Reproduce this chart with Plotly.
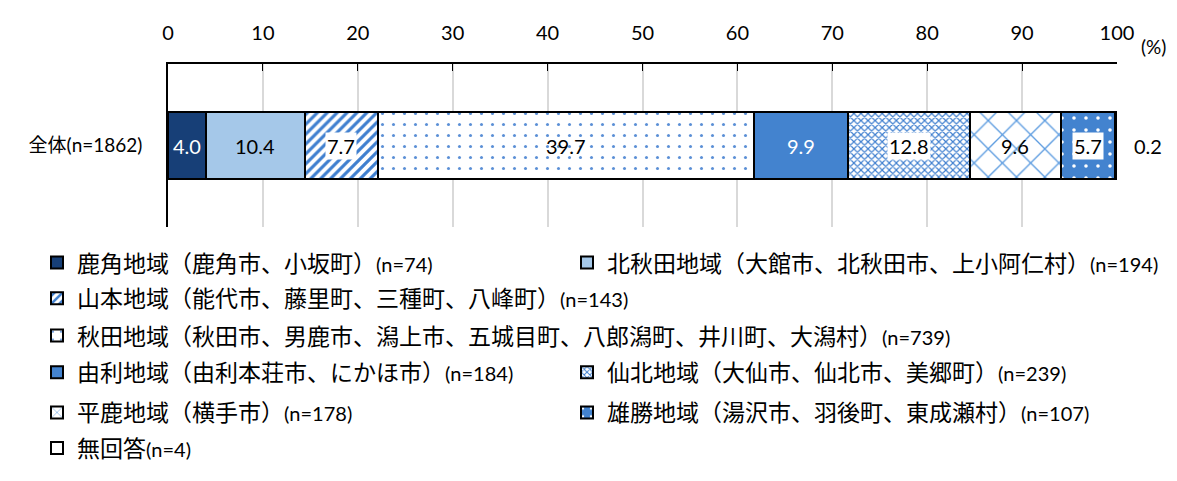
import plotly.graph_objects as go

category = "全体(n=1862)"
category_label = "全体"
category_n = "(n=1862)"
regions = [
    "鹿角地域（鹿角市、小坂町）",
    "北秋田地域（大館市、北秋田市、上小阿仁村）",
    "山本地域（能代市、藤里町、三種町、八峰町）",
    "秋田地域（秋田市、男鹿市、潟上市、五城目町、八郎潟町、井川町、大潟村）",
    "由利地域（由利本荘市、にかほ市）",
    "仙北地域（大仙市、仙北市、美郷町）",
    "平鹿地域（横手市）",
    "雄勝地域（湯沢市、羽後町、東成瀬村）",
    "無回答",
]
counts = [74, 194, 143, 739, 184, 239, 178, 107, 4]
values = [4.0, 10.4, 7.7, 39.7, 9.9, 12.8, 9.6, 5.7, 0.2]
tick_vals = [0, 10, 20, 30, 40, 50, 60, 70, 80, 90, 100]

CJK = "Noto Sans CJK JP"
LAT = "Lato"

styles = [
    dict(color="#173f77", pattern=dict(shape="")),
    dict(color="#a5c8e9", pattern=dict(shape="")),
    dict(color="white", pattern=dict(shape="/", fgcolor="#3f7fcf", bgcolor="white", size=7, solidity=0.45, fillmode="replace")),
    dict(color="white", pattern=dict(shape=".", fgcolor="#5b8fd6", bgcolor="white", size=11, solidity=0.06, fillmode="replace")),
    dict(color="#4383cf", pattern=dict(shape="")),
    dict(color="white", pattern=dict(shape="x", fgcolor="#3f7fcf", bgcolor="white", size=5, solidity=0.42, fillmode="replace")),
    dict(color="white", pattern=dict(shape="x", fgcolor="#5b9be0", bgcolor="white", size=20, solidity=0.13, fillmode="replace")),
    dict(color="#4383cf", pattern=dict(shape=".", fgcolor="white", bgcolor="#4383cf", size=12, solidity=0.07, fillmode="replace")),
    dict(color="white", pattern=dict(shape="")),
]
label_font_color = ["white", "black", "black", "black", "white", "black", "black", "black", "black"]
label_bg = [None, None, "white", None, None, "white", None, "white", None]

# legend layout: (text start x pixel, row center y pixel) in screen coordinates
legend_pos = [
    (77, 271), (607, 271),
    (77, 309),
    (77, 349),
    (77, 388), (607, 388),
    (77, 431), (607, 431),
    (77, 469),
]

OFF = 8  # page body margin
W, H = 1177 - OFF, 481 - OFF
L, T, R, B = 168 - OFF, 59 - OFF, 60, 248
pw = W - L - R
ph = H - T - B
plot_left_screen = L + OFF
plot_bottom_screen = OFF + H - B

fig = go.Figure()
for i, (name, n, v) in enumerate(zip(regions, counts, values)):
    lname = "legend" if i == 0 else f"legend{i+1}"
    fig.add_trace(go.Bar(
        y=[category], x=[v], orientation="h",
        name=f"<span style='font-family:{CJK}'>{name}</span><span style='font-family:{LAT};font-size:20px'>(n={n})</span>",
        marker=dict(color=styles[i]["color"], pattern=styles[i]["pattern"],
                    line=dict(color="black", width=2)),
        width=0.41,
        legend=lname,
        hoverinfo="skip",
    ))

annotations = []
cum = 0.0
for i, v in enumerate(values):
    mid = cum + v / 2
    cum += v
    if i == len(values) - 1:
        annotations.append(dict(x=cum, y=category, xref="x", yref="y", text=f"{v:.1f}",
                                showarrow=False, xshift=31, font=dict(family=LAT, size=20, color="black")))
        continue
    a = dict(x=mid, y=category, xref="x", yref="y", text=f"{v:.1f}", showarrow=False,
             font=dict(family=LAT, size=20, color=label_font_color[i]))
    if label_bg[i]:
        a["bgcolor"] = label_bg[i]
        a["borderpad"] = 1
    annotations.append(a)

annotations.append(dict(x=(1153 - plot_left_screen) / pw, y=(plot_bottom_screen - 40) / ph,
                        xref="paper", yref="paper", xanchor="center", yanchor="middle",
                        text="(%)", showarrow=False, font=dict(family=LAT, size=19, color="black")))

layout_legends = {}
for i, (tx, ty) in enumerate(legend_pos):
    lname = "legend" if i == 0 else f"legend{i+1}"
    layout_legends[lname] = dict(
        x=(tx - 40 - plot_left_screen) / pw, y=(plot_bottom_screen - ty) / ph,
        xanchor="left", yanchor="middle",
        xref="paper", yref="paper", bgcolor="rgba(0,0,0,0)",
        font=dict(family=CJK, size=23, color="black"),
        itemclick=False, itemdoubleclick=False,
    )

fig.update_layout(
    width=W, height=H,
    margin=dict(l=L, r=R, t=T, b=B, pad=0),
    paper_bgcolor="white", plot_bgcolor="white",
    barmode="stack",
    showlegend=True,
    annotations=annotations,
    xaxis=dict(side="top", range=[0, 100], tickvals=tick_vals, ticks="inside", ticklen=7,
               tickcolor="black", showgrid=True, gridcolor="#d9d9d9", gridwidth=1.5,
               showline=True, linecolor="black", linewidth=1.5, zeroline=False,
               tickfont=dict(family=LAT, size=20, color="black"), ticklabelstandoff=14,
               fixedrange=True),
    yaxis=dict(range=[-0.5, 0.5], showline=True, linecolor="black", linewidth=1.5,
               ticks="", showgrid=False, zeroline=False, ticklabelstandoff=20,
               tickvals=[category],
               ticktext=[f"<span style='font-family:{CJK}'>{category_label}</span>{category_n}"],
               tickfont=dict(family=LAT, size=19, color="black"), fixedrange=True),
    **layout_legends,
)

fig.write_html("out.html")
